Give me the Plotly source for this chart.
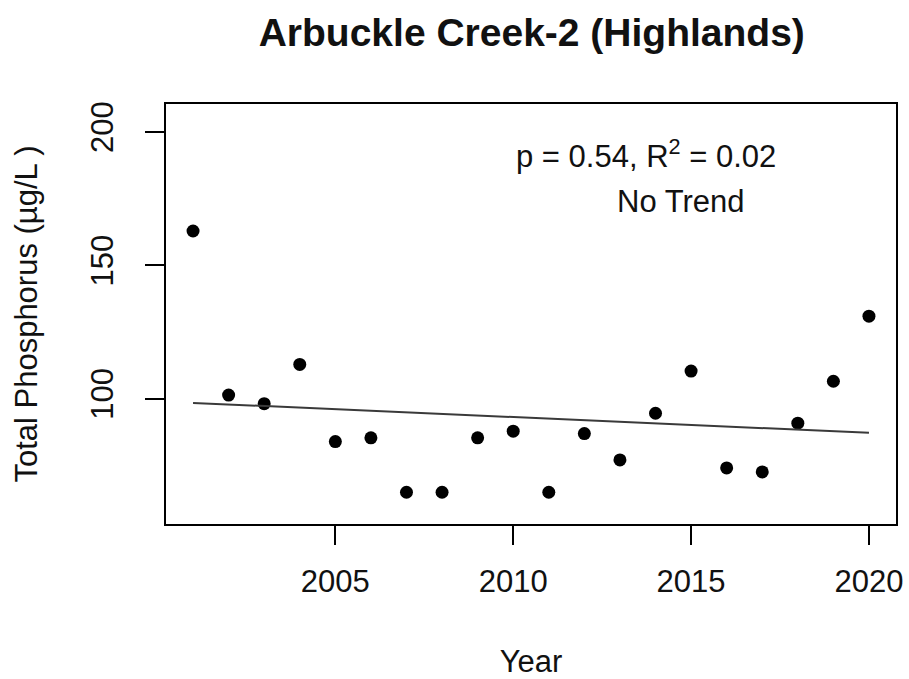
import numpy as np
import plotly.graph_objects as go

# Annual total phosphorus, Arbuckle Creek-2 (Highlands)
years = list(range(2001, 2021))
tp = [162.8, 101.3, 98.1, 112.8, 83.9, 85.3, 64.9, 64.9, 85.3, 87.8,
      64.9, 86.9, 77.0, 94.5, 110.3, 74.0, 72.5, 90.8, 106.5, 130.9]
x_ticks = [2005, 2010, 2015, 2020]
y_ticks = [100, 150, 200]

stats_text = "p = 0.54, R<sup>2</sup> = 0.02"
trend_text = "No Trend"

# least squares trend line
slope, intercept = np.polyfit(years, tp, 1)
fit_x = [years[0], years[-1]]
fit_y = [intercept + slope * x for x in fit_x]

font = "Arial, Liberation Sans, sans-serif"

fig = go.Figure()
fig.add_trace(go.Scatter(
    x=years, y=tp, mode='markers',
    marker=dict(color='black', size=13),
    showlegend=False,
))
fig.add_trace(go.Scatter(
    x=fit_x, y=fit_y, mode='lines',
    line=dict(color='#3a3a3a', width=2),
    showlegend=False,
))

fig.add_annotation(x=2013.73, y=191.5, xref='x', yref='y', text=stats_text,
                   showarrow=False, font=dict(size=31, color='#111', family=font))
fig.add_annotation(x=2014.72, y=174, xref='x', yref='y', text=trend_text,
                   showarrow=False, font=dict(size=31, color='#111', family=font))

fig.update_layout(
    width=909, height=679,
    margin=dict(l=166, r=13, t=104, b=155),
    paper_bgcolor='white', plot_bgcolor='white',
    font=dict(family=font, color='#111'),
    title=dict(text='<b>Arbuckle Creek-2 (Highlands)</b>', x=0.585, xanchor='center',
               y=1 - 32 / 679, yanchor='middle', font=dict(size=39, color='#111', family=font)),
)
fig.update_xaxes(
    range=[2000.24, 2020.76], tickvals=x_ticks, showgrid=False, zeroline=False,
    showline=True, linecolor='black', linewidth=1.5, mirror=True,
    ticks='outside', ticklen=19, tickwidth=1.5, tickcolor='black',
    tickfont=dict(size=31, color='#111'), ticklabelstandoff=10, automargin=False,
    title=dict(text='Year', font=dict(size=31, color='#111'), standoff=55),
)
fig.update_yaxes(
    range=[53, 210.4], tickvals=y_ticks, showgrid=False, zeroline=False,
    showline=True, linecolor='black', linewidth=1.5, mirror=True,
    ticks='outside', ticklen=19, tickwidth=1.5, tickcolor='black',
    tickangle=-90, tickfont=dict(size=31, color='#111'), ticklabelstandoff=20,
    automargin=False,
    title=dict(text='Total Phosphorus (µg/L )', font=dict(size=31, color='#111'), standoff=38),
)

# page body has a default 8px margin; drop it so the figure fills the window
fig.write_html("out.html", config={'displayModeBar': False},
               post_script="document.body.style.margin = '0';")
